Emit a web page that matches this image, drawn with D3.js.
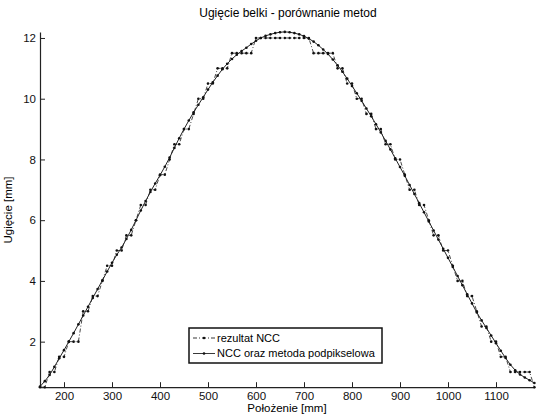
<!DOCTYPE html>
<html>
<head>
<meta charset="utf-8">
<script src="https://d3js.org/d3.v7.min.js"></script>
<style>
  body { margin: 0; background: #fff; }
  svg { display: block; font-family: "Liberation Sans", Arial, sans-serif; }
</style>
</head>
<body>
<svg id="wykres" width="536" height="415"></svg>
<script>
// polozenie [mm]
const polozenie = [150, 160, 170, 180, 190, 200, 210, 220, 230, 240, 250, 260, 270, 280, 290, 300, 310, 320, 330, 340,
    350, 360, 370, 380, 390, 400, 410, 420, 430, 440, 450, 460, 470, 480, 490, 500, 510, 520, 530, 540,
    550, 560, 570, 580, 590, 600, 610, 620, 630, 640, 650, 660, 670, 680, 690, 700, 710, 720, 730, 740,
    750, 760, 770, 780, 790, 800, 810, 820, 830, 840, 850, 860, 870, 880, 890, 900, 910, 920, 930, 940,
    950, 960, 970, 980, 990, 1000, 1010, 1020, 1030, 1040, 1050, 1060, 1070, 1080, 1090, 1100, 1110, 1120, 1130, 1140,
    1150, 1160, 1170, 1180];

// NCC oraz metoda podpikselowa
const ugiecieSub = [0.52, 0.70, 0.90, 1.17, 1.45, 1.72, 2.00, 2.28, 2.57, 2.86, 3.15, 3.44, 3.73, 4.02, 4.31, 4.60, 4.86, 5.10, 5.38, 5.68,
    6.00, 6.32, 6.63, 6.93, 7.21, 7.48, 7.76, 8.06, 8.38, 8.70, 9.00, 9.28, 9.55, 9.80, 10.05, 10.30, 10.54, 10.76, 10.97, 11.15,
    11.31, 11.45, 11.57, 11.68, 11.80, 11.91, 12.00, 12.07, 12.12, 12.16, 12.19, 12.20, 12.19, 12.16, 12.12, 12.06, 11.98, 11.88, 11.76, 11.62,
    11.47, 11.29, 11.10, 10.89, 10.66, 10.42, 10.18, 9.93, 9.68, 9.42, 9.16, 8.89, 8.61, 8.33, 8.04, 7.75, 7.46, 7.16, 6.86, 6.56,
    6.26, 5.96, 5.66, 5.36, 5.06, 4.76, 4.46, 4.16, 3.86, 3.56, 3.26, 2.96, 2.70, 2.45, 2.20, 1.95, 1.70, 1.46, 1.24, 1.06,
    0.92, 0.82, 0.73, 0.64];

// rezultat NCC (krok 0.5 mm)
const ugiecieNCC = [0.5, 0.5, 1.0, 1.0, 1.5, 1.5, 2.0, 2.0, 2.0, 3.0, 3.0, 3.5, 3.5, 4.0, 4.5, 4.5, 5.0, 5.0, 5.5, 5.5,
    6.0, 6.5, 6.5, 7.0, 7.0, 7.5, 7.5, 8.0, 8.5, 8.5, 9.0, 9.0, 9.5, 10.0, 10.0, 10.5, 10.5, 11.0, 11.0, 11.0,
    11.5, 11.5, 11.5, 11.5, 11.5, 12.0, 12.0, 12.0, 12.0, 12.0, 12.0, 12.0, 12.0, 12.0, 12.0, 12.0, 12.0, 11.5, 11.5, 11.5,
    11.5, 11.5, 11.0, 11.0, 10.5, 10.5, 10.0, 10.0, 9.5, 9.5, 9.0, 9.0, 8.5, 8.5, 8.0, 8.0, 7.5, 7.0, 7.0, 6.5,
    6.5, 6.0, 5.5, 5.5, 5.0, 5.0, 4.5, 4.0, 4.0, 3.5, 3.5, 3.0, 2.5, 2.5, 2.0, 2.0, 1.5, 1.5, 1.0, 1.0,
    1.0, 1.0, 1.0, 0.5];

const xTicks = [200, 300, 400, 500, 600, 700, 800, 900, 1000, 1100];
const yTicks = [2, 4, 6, 8, 10, 12];
const legenda = ["rezultat NCC", "NCC oraz metoda podpikselowa"];

let wykres = () => {
    var svg = d3.select("#wykres");

    var x = d3.scaleLinear().domain([150, 1180]).range([40, 534.4]);
    var y = d3.scaleLinear().domain([0.5, 12.2]).range([387.2, 31.9]);

    let ncc = polozenie.map((p, i) => ({x: p, y: ugiecieNCC[i]}));
    let sub = polozenie.map((p, i) => ({x: p, y: ugiecieSub[i]}));

    var line = d3.line().x(d => x(d.x)).y(d => y(d.y));

    // osie (tiki do srodka, jak w matlabie)
    var osX = svg.append("g")
        .attr("transform", "translate(0," + y(0.5) + ")")
        .call(d3.axisBottom(x).tickValues(xTicks).tickFormat(d3.format("d"))
            .tickSizeInner(-5).tickSizeOuter(0).tickPadding(5));
    var osY = svg.append("g")
        .attr("transform", "translate(" + x(150) + ",0)")
        .call(d3.axisLeft(y).tickValues(yTicks).tickFormat(d3.format("d"))
            .tickSizeInner(-5).tickSizeOuter(0).tickPadding(4));
    [osX, osY].forEach(os => {
        os.select(".domain").attr("stroke", "#222").attr("stroke-width", 1.2);
        os.selectAll(".tick line").attr("stroke", "#222");
        os.selectAll(".tick text").attr("font-size", 11.5).attr("fill", "#111")
            .attr("font-family", "'Liberation Sans', Arial, sans-serif");
    });

    svg.append("path")
        .datum(ncc)
        .attr("d", line)
        .attr("fill", "none")
        .attr("stroke", "#333")
        .attr("stroke-width", 0.9)
        .attr("stroke-dasharray", "4,2,1,2");
    svg.append("path")
        .datum(sub)
        .attr("d", line)
        .attr("fill", "none")
        .attr("stroke", "#222")
        .attr("stroke-width", 1);

    svg.append("g").selectAll("circle")
        .data(ncc.concat(sub))
        .enter().append("circle")
        .attr("cx", d => x(d.x))
        .attr("cy", d => y(d.y))
        .attr("r", 1.3)
        .attr("fill", "#111");

    // tytul i opisy osi
    svg.append("text")
        .attr("x", 288).attr("y", 17)
        .attr("text-anchor", "middle")
        .attr("font-size", 12)
        .text("Ugięcie belki - porównanie metod");
    svg.append("text")
        .attr("transform", "translate(12,210) rotate(-90)")
        .attr("text-anchor", "middle")
        .attr("font-size", 11.5)
        .text("Ugięcie [mm]");
    svg.append("text")
        .attr("x", 287).attr("y", 412)
        .attr("text-anchor", "middle")
        .attr("font-size", 11.5)
        .text("Położenie [mm]");

    // legenda
    var leg = svg.append("g").attr("transform", "translate(189,328)");
    leg.append("rect")
        .attr("width", 193).attr("height", 35)
        .attr("fill", "#fff").attr("stroke", "#111").attr("stroke-width", 1.5);
    var wpis = leg.selectAll("g")
        .data(legenda)
        .enter().append("g")
        .attr("transform", (d, i) => "translate(0," + (10 + i * 15.5) + ")");
    wpis.append("line")
        .attr("x1", 4).attr("x2", 26)
        .attr("stroke", "#222")
        .attr("stroke-width", 0.9)
        .attr("stroke-dasharray", (d, i) => i == 0 ? "4,2,1,2" : null);
    wpis.append("circle").attr("cx", 15).attr("r", 1.3).attr("fill", "#111");
    wpis.append("text")
        .attr("x", 28).attr("dy", "0.35em")
        .attr("font-size", 11)
        .text(d => d);
};

wykres();
</script>
</body>
</html>
